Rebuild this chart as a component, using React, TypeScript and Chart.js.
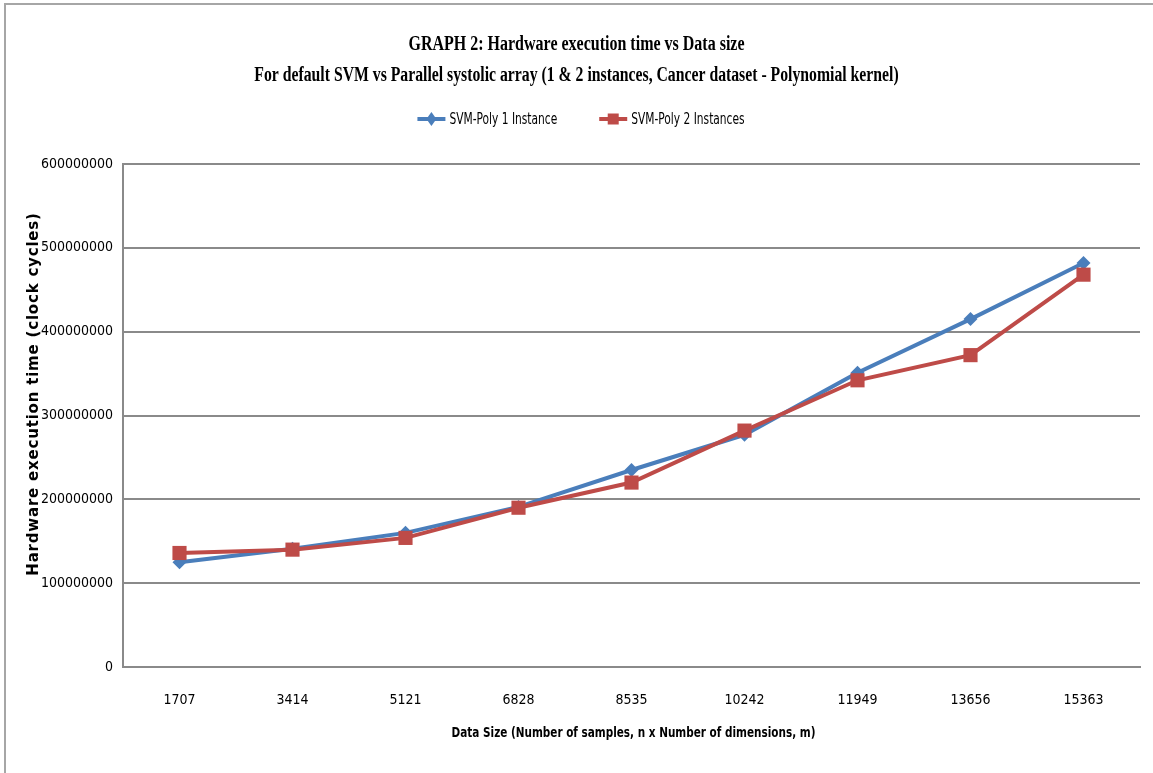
import React, { useEffect, useRef } from "react";
import { Chart, registerables } from "chart.js";

Chart.register(...registerables);

const categories = ["1707", "3414", "5121", "6828", "8535", "10242", "11949", "13656", "15363"];
const poly1Instance = [125000000, 141000000, 160000000, 191000000, 235000000, 277000000, 351000000, 415000000, 482000000];
const poly2Instances = [136000000, 140000000, 154000000, 190000000, 220000000, 282000000, 342000000, 372000000, 468000000];
const seriesNames = ["SVM-Poly 1 Instance", "SVM-Poly 2 Instances"];
const titleLines = [
  "GRAPH 2: Hardware execution time vs Data size",
  "For default SVM vs Parallel systolic array (1 & 2 instances, Cancer dataset - Polynomial kernel)",
];
const yAxisTitle = "Hardware execution time (clock cycles)";
const xAxisTitle = "Data Size (Number of samples, n x Number of dimensions, m)";

const BLUE = "#4a7ebb";
const RED = "#be4b48";
const GRID = "#8a8a8a";
const NARROW = "'DejaVu Sans Condensed', 'Liberation Sans Narrow', 'Arial Narrow', sans-serif";

function drawMarker(ctx: CanvasRenderingContext2D, style: string, x: number, y: number, color: string) {
  ctx.fillStyle = color;
  ctx.beginPath();
  if (style === "rect") {
    ctx.rect(x - 5.5, y - 5.5, 11, 11);
  } else {
    ctx.moveTo(x, y - 7);
    ctx.lineTo(x + 5, y);
    ctx.lineTo(x, y + 7);
    ctx.lineTo(x - 5, y);
    ctx.closePath();
  }
  ctx.fill();
}

// draws a line of text horizontally squeezed around its anchor
function squeezedText(ctx: CanvasRenderingContext2D, text: string, x: number, y: number, sx: number) {
  ctx.save();
  ctx.translate(x, y);
  ctx.scale(sx, 1);
  ctx.fillText(text, 0, 0);
  ctx.restore();
}

const decorations = {
  id: "decorations",
  beforeDraw(chart: any) {
    const ctx: CanvasRenderingContext2D = chart.ctx;
    ctx.save();
    ctx.fillStyle = "#ffffff";
    ctx.fillRect(0, 0, chart.width, chart.height);
    // outer frame (top and left edges)
    ctx.strokeStyle = "#a6a6a6";
    ctx.lineWidth = 2;
    ctx.beginPath();
    ctx.moveTo(5, chart.height);
    ctx.lineTo(5, 4);
    ctx.lineTo(chart.width, 4);
    ctx.stroke();
    ctx.restore();
  },
  afterDraw(chart: any) {
    const ctx: CanvasRenderingContext2D = chart.ctx;
    const area = chart.chartArea;
    const cx = chart.width / 2;
    ctx.save();
    ctx.fillStyle = "#000000";
    ctx.textAlign = "center";
    ctx.textBaseline = "middle";

    // condensed serif title
    ctx.font = "bold 20px 'Liberation Serif', 'Times New Roman', serif";
    squeezedText(ctx, titleLines[0], cx, 45, 0.8);
    squeezedText(ctx, titleLines[1], cx, 76, 0.787);

    // x axis title
    ctx.font = "bold 14px " + NARROW;
    squeezedText(ctx, xAxisTitle, (area.left + area.right) / 2 + 2, 733, 0.83);

    // y axis title
    ctx.save();
    ctx.translate(34, 394);
    ctx.rotate(-Math.PI / 2);
    ctx.font = "bold 15px 'DejaVu Sans', Verdana, sans-serif";
    (ctx as any).letterSpacing = "0.8px";
    ctx.fillText(yAxisTitle, 0, 0);
    ctx.restore();

    // legend: line segment with marker, followed by label
    const lsx = 0.79;
    ctx.font = "15px " + NARROW;
    ctx.textAlign = "left";
    const seg = 28;
    const gapText = 4;
    const gapItem = 42;
    const widths = seriesNames.map((n) => seg + gapText + ctx.measureText(n).width * lsx);
    const total = widths.reduce((a, b) => a + b, 0) + gapItem * (widths.length - 1);
    let x = 581 - total / 2;
    const ly = 119;
    chart.data.datasets.forEach((ds: any, i: number) => {
      ctx.strokeStyle = ds.borderColor;
      ctx.lineWidth = 4;
      ctx.beginPath();
      ctx.moveTo(x, ly);
      ctx.lineTo(x + seg, ly);
      ctx.stroke();
      drawMarker(ctx, ds.pointStyle, x + seg / 2, ly, ds.borderColor);
      ctx.fillStyle = "#000000";
      squeezedText(ctx, ds.label, x + seg + gapText, ly + 1, lsx);
      x += widths[i] + gapItem;
    });
    ctx.restore();
  },
};

export default function App() {
  const ref = useRef<HTMLCanvasElement | null>(null);

  useEffect(() => {
    if (!ref.current) return;
    const chart = new Chart(ref.current, {
      type: "line",
      data: {
        labels: categories,
        datasets: [
          {
            label: seriesNames[0],
            data: poly1Instance,
            borderColor: BLUE,
            backgroundColor: BLUE,
            borderWidth: 4,
            pointStyle: "rectRot",
            pointRadius: 7,
            pointBorderWidth: 0,
            tension: 0,
            order: 1,
          },
          {
            label: seriesNames[1],
            data: poly2Instances,
            borderColor: RED,
            backgroundColor: RED,
            borderWidth: 4,
            pointStyle: "rect",
            pointRadius: 10,
            pointBorderWidth: 0,
            tension: 0,
            order: 0,
          },
        ],
      },
      plugins: [decorations],
      options: {
        responsive: false,
        animation: false,
        layout: { padding: { top: 164, left: 0, right: 13, bottom: 0 } },
        plugins: {
          legend: { display: false },
          title: { display: false },
          tooltip: { enabled: false },
        },
        scales: {
          x: {
            offset: true,
            afterFit: (scale: any) => {
              scale.height = 106;
            },
            grid: { display: false, drawTicks: false },
            border: { display: true, color: GRID, width: 2 },
            ticks: {
              color: "#000000",
              padding: 25,
              font: { family: NARROW, size: 14 },
              maxRotation: 0,
            },
          },
          y: {
            min: 0,
            max: 600000000,
            afterFit: (scale: any) => {
              scale.width = 123;
            },
            grid: { color: GRID, lineWidth: 2, drawTicks: false },
            border: { display: true, color: GRID, width: 2 },
            ticks: {
              stepSize: 100000000,
              color: "#000000",
              padding: 10,
              font: { family: NARROW, size: 14 },
              callback: (v: any) => String(v),
            },
          },
        },
      },
    });
    return () => chart.destroy();
  }, []);

  return (
    <div style={{ position: "absolute", left: 0, top: 0, width: 1153, height: 773, background: "#fff" }}>
      <canvas ref={ref} width={1153} height={773} style={{ display: "block" }} />
    </div>
  );
}
